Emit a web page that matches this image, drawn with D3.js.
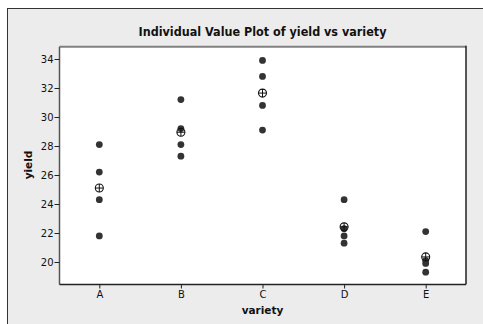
<!DOCTYPE html>
<html><head><meta charset="utf-8">
<script src="https://cdn.jsdelivr.net/npm/d3@7"></script>
<style>html,body{margin:0;padding:0;background:#fff;}svg{display:block;}</style>
</head><body>
<script>
const categories = ["A","B","C","D","E"];
const valuesA = [28.1, 26.2, 24.3, 21.8];
const valuesB = [31.2, 29.2, 28.1, 27.3];
const valuesC = [33.9, 32.8, 30.8, 29.1];
const valuesD = [24.3, 22.3, 21.8, 21.3];
const valuesE = [22.1, 20.1, 19.9, 19.3];
const yTicks = [20, 22, 24, 26, 28, 30, 32, 34];
const titleText = "Individual Value Plot of yield vs variety";
const xLabel = "variety", yLabel = "yield";

const groups = [valuesA, valuesB, valuesC, valuesD, valuesE];
const W = 483, H = 324;
const L = 59.5, R = 466, T = 46.7, B = 284.5;

const svg = d3.select("body").append("svg").attr("width", W).attr("height", H);
svg.append("rect").attr("x", 7.5).attr("y", 8.5).attr("width", W).attr("height", H)
  .attr("fill", "#ececec").attr("stroke", "#333").attr("stroke-width", 1);

const x = d3.scalePoint().domain(categories).range([99.3, 425.7]);
const y = d3.scaleLinear().domain([20, 34]).range([262, 59]);

svg.append("rect").attr("x", L).attr("y", T).attr("width", R - L).attr("height", B - T).attr("fill", "#fff");
// borders
svg.append("line").attr("x1", L).attr("x2", R).attr("y1", T).attr("y2", T).attr("stroke", "#808080").attr("stroke-width", 2);
svg.append("line").attr("x1", L).attr("x2", L).attr("y1", T).attr("y2", B).attr("stroke", "#555").attr("stroke-width", 1.5);
svg.append("line").attr("x1", R).attr("x2", R).attr("y1", T - 1).attr("y2", B).attr("stroke", "#222").attr("stroke-width", 1.5);
svg.append("line").attr("x1", L).attr("x2", R).attr("y1", B).attr("y2", B).attr("stroke", "#222").attr("stroke-width", 1.5);

const font = "'DejaVu Sans', Verdana, sans-serif";
const yAxis = svg.append("g").attr("transform", `translate(${L},0)`)
  .call(d3.axisLeft(y).tickValues(yTicks).tickSize(5).tickPadding(1).tickFormat(d3.format("d")));
yAxis.select(".domain").remove();
yAxis.selectAll("text").attr("font-family", font).attr("font-size", 10).attr("fill", "#111");
yAxis.selectAll("line").attr("stroke", "#222");

const xAxis = svg.append("g").attr("transform", `translate(0,${B})`)
  .call(d3.axisBottom(x).tickSize(4).tickPadding(2));
xAxis.select(".domain").remove();
xAxis.selectAll("text").attr("font-family", font).attr("font-size", 10).attr("fill", "#111");
xAxis.selectAll("line").attr("stroke", "#222");

svg.append("text").attr("x", 262.5).attr("y", 36).attr("text-anchor", "middle")
  .attr("font-family", font).attr("font-weight", "bold").attr("font-size", 11.5)
  .attr("textLength", 248).attr("lengthAdjust", "spacingAndGlyphs").attr("fill", "#111").text(titleText);
svg.append("text").attr("x", 262.5).attr("y", 314).attr("text-anchor", "middle")
  .attr("font-family", font).attr("font-weight", "bold").attr("font-size", 10.5).attr("fill", "#111").text(xLabel);
svg.append("text").attr("transform", `translate(32,165) rotate(-90)`).attr("text-anchor", "middle")
  .attr("font-family", font).attr("font-weight", "bold").attr("font-size", 10.5).attr("fill", "#111").text(yLabel);

const pts = [];
groups.forEach((g, i) => g.forEach(v => pts.push({c: categories[i], v})));
svg.append("g").selectAll("circle").data(pts).join("circle")
  .attr("cx", d => x(d.c)).attr("cy", d => y(d.v)).attr("r", 3.4).attr("fill", "#333");

const means = groups.map((g, i) => ({c: categories[i], v: d3.mean(g)}));
const mg = svg.append("g").selectAll("g").data(means).join("g")
  .attr("transform", d => `translate(${x(d.c)},${y(d.v)})`);
mg.append("circle").attr("r", 4).attr("fill", "none").attr("stroke", "#111").attr("stroke-width", 1.1);
mg.append("line").attr("x1", -4).attr("x2", 4).attr("stroke", "#111").attr("stroke-width", 1);
mg.append("line").attr("y1", -4).attr("y2", 4).attr("stroke", "#111").attr("stroke-width", 1);
</script>
</body></html>
